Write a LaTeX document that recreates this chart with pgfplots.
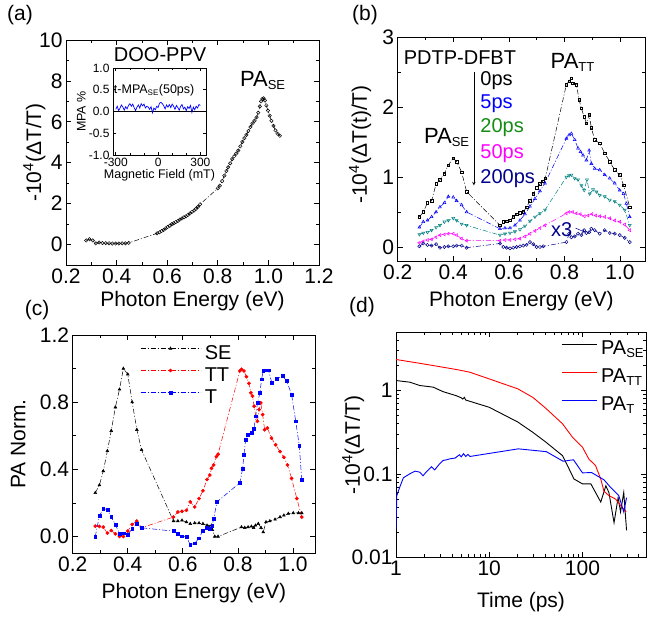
\documentclass[border=0pt]{standalone}
\usepackage{fontspec}
\setmainfont{Liberation Sans}
\usepackage{pgfplots}
\pgfplotsset{compat=1.18}
\definecolor{mteal}{RGB}{0,128,128}
\definecolor{mnavy}{RGB}{0,0,139}
\definecolor{mgreen}{RGB}{20,140,20}
\definecolor{mmag}{RGB}{255,0,255}
\definecolor{mblue}{RGB}{0,0,255}
\definecolor{mred}{RGB}{255,0,0}
\newcommand{\fs}{\fontsize{21}{24}\selectfont}
\newcommand{\fa}{\fontsize{20}{23}\selectfont}
\newcommand{\fp}{\fontsize{22}{25}\selectfont}
\newcommand{\sub}[1]{\textsubscript{\fontsize{13}{13}\selectfont #1}}
\pgfplotsset{
 panel/.style={scale only axis, anchor=south west, tick align=inside,
   /pgf/number format/assume math mode=true,
   tick label style={font=\fs},
   label style={font=\fs},
   axis line style={line width=0.8pt},
   major tick length=5pt, minor tick length=3pt,
   every tick/.style={line width=0.7pt, black},
 },
 dd/.style={dash pattern=on 5pt off 2pt on 1pt off 2pt, line width=0.5pt},
}
\begin{document}
\begin{tikzpicture}[font=\fs]
\useasboundingbox (0,0) rectangle (647pt,618pt);
% ---------------- (a)
\begin{axis}[panel, at={(66pt,353pt)}, width=253pt, height=225pt,
 xmin=0.2,xmax=1.2,ymin=-1,ymax=10,
 xtick={0.2,0.4,0.6,0.8,1.0,1.2}, xticklabels={0.2,0.4,0.6,0.8,1.0,1.2},
 ytick={0,2,4,6,8,10}, yticklabels={0,2,4,6,8,10},
 minor x tick num=1, minor y tick num=1,
 xlabel={Photon Energy (eV)}, ylabel={-10\textsuperscript{4}(ΔT/T)},
 xlabel style={at={(axis description cs:0.5,-0.16)}, anchor=center},
 ylabel style={at={(axis description cs:-0.125,0.5)}, anchor=center},
]
\addplot[black, dd, mark=o, mark size=1.7pt, mark options={solid, line width=0.5pt}] table {
0.280 0.20
0.293 0.26
0.306 0.20
0.318 0.06
0.331 0.10
0.344 0.07
0.357 0.07
0.370 0.06
0.383 0.05
0.396 0.05
0.409 0.05
0.422 0.06
0.435 0.06
0.448 0.08
0.560 0.55
0.570 0.60
0.578 0.66
0.586 0.71
0.594 0.79
0.602 0.86
0.610 0.92
0.618 0.99
0.626 1.04
0.634 1.10
0.642 1.15
0.650 1.22
0.658 1.27
0.666 1.33
0.674 1.38
0.682 1.45
0.690 1.52
0.698 1.60
0.706 1.66
0.714 1.75
0.722 1.85
0.730 1.97
0.800 2.75
0.808 2.88
0.817 3.10
0.826 3.37
0.834 3.60
0.841 3.78
0.849 3.97
0.857 4.18
0.865 4.32
0.873 4.45
0.881 4.60
0.889 4.80
0.897 5.02
0.905 5.20
0.913 5.36
0.921 5.55
0.929 5.75
0.937 5.92
0.945 6.05
0.953 6.22
0.960 6.45
0.966 6.75
0.971 7.00
0.976 7.12
0.981 7.15
0.986 7.05
0.992 6.80
0.998 6.55
1.005 6.30
1.012 6.05
1.020 5.80
1.028 5.58
1.036 5.42
1.045 5.32
};
\node[font=\fa] at (axis cs:0.572,9.27) {DOO-PPV};
\node[font=\fp] at (axis cs:0.978,8.04) {PA\sub{SE}};
\end{axis}
% ---------------- inset
\begin{axis}[panel, at={(113pt,463pt)}, width=93pt, height=87pt,
 xmin=-320, xmax=340, ymin=-1, ymax=1,
 xtick={-300,0,300}, xticklabels={-300,0,300}, minor xtick={-200,-100,100,200},
 ytick={-1,-0.5,0,0.5,1}, yticklabels={-1.0,-0.5,0.0,0.5,1.0},
 tick label style={font=\fontsize{12}{14}\selectfont},
 label style={font=\fontsize{12.5}{14}\selectfont},
 major tick length=3pt, minor tick length=2pt,
 xlabel={Magnetic Field (mT)}, ylabel={MPA \%},
 xlabel style={at={(axis description cs:0.5,-0.23)}, anchor=center},
 ylabel style={at={(axis description cs:-0.34,0.5)}, anchor=center},
 axis line style={line width=0.7pt},
]
\addplot[black, line width=0.7pt] coordinates {(-320,0) (340,0)};
\addplot[mblue, line width=0.7pt] table {
-300 0.05
-290 0.12
-280 0.02
-270 0.08
-260 0.15
-250 0.10
-240 0.03
-230 0.11
-220 0.06
-210 0.14
-200 0.18
-190 0.12
-180 0.17
-170 0.09
-160 0.02
-150 0.10
-140 0.15
-130 0.08
-120 0.18
-110 0.13
-100 0.17
-90 0.08
-80 0.12
-70 0.10
-60 0.05
-50 0.11
-40 -0.03
-30 0.08
-20 0.04
-10 0.12
0 0.09
10 0.19
20 0.21
30 0.18
40 0.13
50 0.06
60 0.15
70 0.10
80 0.16
90 0.09
100 0.17
110 0.12
120 0.05
130 0.14
140 0.09
150 0.03
160 0.12
170 0.16
180 0.06
190 0.10
200 0.02
210 0.11
220 0.07
230 0.14
240 -0.02
250 0.10
260 0.04
270 0.12
280 0.08
290 0.16
300 0.14
};
\node[font=\fontsize{12.5}{14}\selectfont] at (axis cs:-28,0.49) {t-MPA\textsubscript{\fontsize{8}{8}\selectfont SE}(50ps)};
\end{axis}
% ---------------- (b)
\begin{axis}[panel, at={(397.7pt,357pt)}, width=247.3pt, height=224pt,
 xmin=0.2,xmax=1.09,ymin=-0.2,ymax=3,
 xtick={0.2,0.4,0.6,0.8,1.0}, xticklabels={0.2,0.4,0.6,0.8,1.0},
 ytick={0,1,2,3}, yticklabels={0,1,2,3},
 minor x tick num=1, minor y tick num=1,
 xlabel={Photon Energy (eV)}, ylabel={-10\textsuperscript{4}(ΔT(t)/T)},
 xlabel style={at={(axis description cs:0.5,-0.178)}, anchor=center},
 ylabel style={at={(axis description cs:-0.152,0.52)}, anchor=center},
]
\addplot[black, dd, mark=square, mark size=1.3pt, mark options={solid, line width=0.5pt}] table {
0.278 0.43
0.292 0.50
0.307 0.63
0.322 0.66
0.338 0.90
0.352 0.96
0.368 1.05
0.382 1.17
0.400 1.27
0.412 1.22
0.430 1.07
0.448 0.79
0.568 0.31
0.580 0.36
0.592 0.37
0.604 0.38
0.616 0.43
0.628 0.47
0.640 0.49
0.652 0.50
0.664 0.57
0.676 0.66
0.688 0.76
0.700 0.85
0.712 0.90
0.722 0.94
0.731 0.98
0.807 2.32
0.817 2.37
0.825 2.41
0.831 2.34
0.843 2.32
0.853 2.10
0.861 1.98
0.871 1.86
0.879 1.77
0.889 1.89
0.897 1.70
0.909 1.53
0.927 1.48
0.945 1.34
0.963 1.22
0.981 1.10
0.999 1.03
1.013 0.88
1.035 0.57
};
\addplot[mblue, dd, mark=triangle, mark size=1.7pt, mark options={solid, line width=0.5pt}] table {
0.278 0.28
0.292 0.36
0.307 0.38
0.322 0.43
0.338 0.50
0.352 0.57
0.368 0.63
0.382 0.72
0.400 0.71
0.412 0.66
0.430 0.60
0.448 0.50
0.568 0.26
0.586 0.27
0.604 0.27
0.622 0.31
0.640 0.38
0.658 0.47
0.676 0.58
0.694 0.69
0.712 0.80
0.730 0.91
0.807 1.55
0.817 1.60
0.825 1.62
0.837 1.53
0.849 1.41
0.858 1.36
0.867 1.31
0.879 1.24
0.889 1.38
0.897 1.19
0.909 1.12
0.927 1.10
0.945 1.03
0.963 0.98
0.981 0.91
0.999 0.81
1.013 0.76
1.023 0.62
1.035 0.43
};
\addplot[mteal, dd, mark=triangle, mark size=1.7pt, mark options={solid, line width=0.5pt, rotate=180}] table {
0.278 0.18
0.292 0.20
0.307 0.21
0.322 0.24
0.338 0.28
0.352 0.31
0.368 0.36
0.382 0.38
0.400 0.41
0.412 0.38
0.430 0.33
0.448 0.31
0.568 0.17
0.586 0.19
0.604 0.20
0.622 0.22
0.640 0.25
0.658 0.30
0.676 0.37
0.694 0.43
0.712 0.48
0.730 0.53
0.807 1.00
0.817 1.02
0.825 1.03
0.837 0.98
0.849 0.96
0.861 0.88
0.871 0.81
0.881 0.96
0.891 0.76
0.903 0.82
0.915 0.79
0.927 0.74
0.945 0.72
0.963 0.67
0.981 0.65
0.999 0.60
1.017 0.53
1.035 0.31
};
\addplot[mmag, dd, mark=triangle, mark size=1.7pt, mark options={solid, line width=0.5pt, rotate=90}] table {
0.278 0.06
0.292 0.08
0.307 0.10
0.322 0.11
0.338 0.14
0.352 0.17
0.368 0.18
0.382 0.19
0.400 0.19
0.412 0.17
0.430 0.12
0.448 0.09
0.568 0.09
0.586 0.10
0.604 0.10
0.622 0.11
0.640 0.12
0.658 0.15
0.676 0.19
0.694 0.23
0.712 0.27
0.730 0.31
0.807 0.48
0.817 0.50
0.829 0.50
0.843 0.48
0.857 0.47
0.871 0.44
0.885 0.45
0.899 0.47
0.913 0.45
0.927 0.44
0.945 0.43
0.963 0.41
0.981 0.38
0.999 0.36
1.017 0.32
1.035 0.24
};
\addplot[mnavy, dd, mark=o, mark size=1.6pt, mark options={solid, line width=0.5pt}] table {
0.278 0.01
0.292 0.05
0.307 0.03
0.322 0.02
0.338 0.04
0.352 -0.01
0.368 0.00
0.382 0.01
0.400 0.01
0.412 0.02
0.430 0.02
0.448 -0.01
0.568 0.05
0.580 0.00
0.592 -0.01
0.604 -0.02
0.616 -0.01
0.628 0.00
0.640 0.01
0.652 0.02
0.664 0.03
0.676 0.07
0.688 0.04
0.700 0.00
0.712 0.00
0.724 0.01
0.807 0.07
0.817 0.19
0.825 0.14
0.837 0.15
0.849 0.19
0.861 0.17
0.871 0.24
0.879 0.20
0.889 0.21
0.897 0.26
0.909 0.24
0.927 0.19
0.945 0.24
0.963 0.20
0.981 0.19
0.999 0.17
1.017 0.13
1.035 0.07
};
\node[font=\fa] at (axis cs:0.424,2.71) {PDTP-DFBT};
\node[font=\fp] at (axis cs:0.83,2.64) {PA\sub{TT}};
\node[font=\fp] at (axis cs:0.377,1.57) {PA\sub{SE}};
\draw[-stealth, line width=0.6pt] (axis cs:0.474,2.5) -- (axis cs:0.474,0.88);
\node[font=\fa, anchor=west, black] at (axis cs:0.485,2.38) {0ps};
\node[font=\fa, anchor=west, mblue] at (axis cs:0.485,2.05) {5ps};
\node[font=\fa, anchor=west, mgreen] at (axis cs:0.485,1.70) {20ps};
\node[font=\fa, anchor=west, mmag] at (axis cs:0.485,1.34) {50ps};
\node[font=\fa, anchor=west, mnavy] at (axis cs:0.485,0.98) {200ps};
\node[font=\fa, mnavy] at (axis cs:0.79,0.25) {x3};
\draw[-stealth, mnavy, line width=0.5pt] (axis cs:0.84,0.27) -- (axis cs:0.875,0.21);
\end{axis}
% ---------------- (c)
\begin{axis}[panel, at={(72.7pt,64.7pt)}, width=242.3pt, height=218.3pt,
 xmin=0.2,xmax=1.08,ymin=-0.1,ymax=1.2,
 xtick={0.2,0.4,0.6,0.8,1.0}, xticklabels={0.2,0.4,0.6,0.8,1.0},
 ytick={0,0.4,0.8,1.2}, yticklabels={0.0,0.4,0.8,1.2},
 minor x tick num=1, minor y tick num=1,
 xlabel={Photon Energy (eV)}, ylabel={PA Norm.},
 xlabel style={at={(axis description cs:0.5,-0.183)}, anchor=center},
 ylabel style={at={(axis description cs:-0.225,0.5)}, anchor=center},
 legend style={draw=none, fill=none, at={(0.278,0.955)}, anchor=north west, font=\fa, row sep=5pt, inner sep=0pt,
   nodes={inner sep=0pt, text height=14pt, text depth=3pt},
   /tikz/every odd column/.append style={column sep=4pt}},
 legend cell align=left,
 legend image code/.code={\draw[mark repeat=2,mark phase=2,#1] plot coordinates {(0pt,5pt) (30pt,5pt) (60pt,5pt)};},
]
\addplot[black, dd, mark=triangle*, mark size=1.6pt, mark options={solid}] table {
0.282 0.26
0.297 0.306
0.311 0.39
0.326 0.51
0.340 0.63
0.355 0.77
0.370 0.876
0.384 1.0
0.400 0.966
0.416 0.80
0.433 0.636
0.450 0.516
0.566 0.092
0.582 0.092
0.597 0.096
0.613 0.086
0.627 0.076
0.643 0.08
0.659 0.08
0.673 0.076
0.688 0.066
0.695 0.06
0.704 0.066
0.707 0.04
0.716 0.0
0.728 0.0
0.813 0.056
0.825 0.052
0.837 0.056
0.849 0.06
0.857 0.052
0.864 0.066
0.874 0.076
0.884 0.052
0.892 0.026
0.902 0.086
0.916 0.092
0.935 0.102
0.953 0.116
0.967 0.126
0.983 0.136
1.001 0.14
1.020 0.14
1.032 0.14
};
\addlegendentry{SE}
\addplot[mred, dd, mark=*, mark size=1.6pt, mark options={solid}] table {
0.282 0.062
0.297 0.06
0.311 0.056
0.326 0.02
0.340 0.036
0.355 0.016
0.370 0.0
0.384 0.0
0.400 0.032
0.416 0.072
0.433 0.092
0.450 0.052
0.566 0.116
0.582 0.146
0.597 0.15
0.613 0.156
0.627 0.206
0.643 0.176
0.659 0.226
0.673 0.272
0.688 0.34
0.698 0.366
0.704 0.406
0.712 0.426
0.722 0.476
0.728 0.49
0.807 0.986
0.813 0.996
0.822 0.986
0.831 0.952
0.840 0.912
0.847 0.856
0.853 0.836
0.859 0.776
0.865 0.716
0.871 0.686
0.877 0.756
0.883 0.796
0.890 0.726
0.897 0.636
0.907 0.646
0.922 0.586
0.937 0.546
0.953 0.506
0.967 0.472
0.980 0.426
0.995 0.346
1.014 0.226
1.032 0.116
};
\addlegendentry{TT}
\addplot[mblue, dd, mark=square*, mark size=1.4pt, mark options={solid}] table {
0.282 0.0
0.297 0.122
0.311 0.166
0.326 0.16
0.340 0.116
0.355 0.072
0.370 0.016
0.384 0.02
0.400 0.012
0.416 0.046
0.433 0.076
0.450 0.052
0.566 0.032
0.582 0.016
0.597 0.002
0.613 0.0
0.627 -0.05
0.643 -0.04
0.659 -0.01
0.673 0.036
0.688 0.052
0.698 0.046
0.707 0.066
0.712 0.106
0.724 0.206
0.807 0.32
0.817 0.402
0.822 0.486
0.828 0.576
0.837 0.606
0.850 0.62
0.858 0.64
0.865 0.716
0.871 0.796
0.880 0.856
0.886 0.936
0.892 0.986
0.902 0.99
0.911 0.99
0.923 0.916
0.941 0.94
0.963 0.956
0.977 0.926
0.995 0.846
1.010 0.686
1.023 0.54
1.032 0.336
};
\addlegendentry{T}
\end{axis}
% ---------------- (d)
\begin{axis}[panel, at={(396pt,60.7pt)}, width=250pt, height=225pt,
 xmode=log, ymode=log, xmin=1, xmax=480, ymin=0.01, ymax=5,
 xtick={1,10,100}, xticklabels={1,10,100},
 ytick={0.01,0.1,1}, yticklabels={0.01,0.1,1},
 minor xtick={2,3,4,5,6,7,8,9,20,30,40,50,60,70,80,90,200,300,400},
 minor ytick={0.02,0.03,0.04,0.05,0.06,0.07,0.08,0.09,0.2,0.3,0.4,0.5,0.6,0.7,0.8,0.9,2,3,4,5},
 xlabel={Time (ps)}, ylabel={-10\textsuperscript{4}(ΔT/T)},
 xlabel style={at={(axis description cs:0.5,-0.197)}, anchor=center},
 ylabel style={at={(axis description cs:-0.171,0.5)}, anchor=center},
 legend style={draw=none, fill=none, at={(0.66,0.97)}, anchor=north west, font=\fa, row sep=7pt, inner sep=0pt,
   nodes={inner sep=0pt, text height=15pt, text depth=6pt},
   /tikz/every odd column/.append style={column sep=4pt}},
 legend cell align=left,
 legend image code/.code={\draw[#1] (0pt,5pt) -- (35pt,5pt);},
]
\addplot[black, line width=0.9pt] table {
1 1.32
1.41 1.26
1.8 1.15
2.5 1.10
3.2 0.97
4.4 0.87
5.0 0.82
5.2 0.79
5.4 0.83
5.6 0.77
10 0.63
20.2 0.42
29.3 0.316
40.6 0.24
61 0.166
69 0.126
81 0.087
100 0.076
123 0.076
157 0.046
178 0.072
192 0.06
218 0.026
241 0.052
256 0.035
277 0.06
297 0.021
};
\addlegendentry{PA\sub{SE}}
\addplot[mred, line width=0.9pt] table {
1 2.36
1.96 2.09
4.44 1.79
6.2 1.66
10 1.38
20.2 1.05
29.3 0.83
40.6 0.61
61 0.40
78 0.276
100 0.209
117 0.151
138 0.126
157 0.087
170 0.062
192 0.055
226 0.05
256 0.042
294 0.035
};
\addlegendentry{PA\sub{TT}}
\addplot[mblue, line width=0.9pt] table {
1 0.022
1.02 0.055
1.1 0.07
1.2 0.09
1.4 0.10
1.6 0.108
1.8 0.105
1.95 0.095
2.1 0.105
2.4 0.122
2.6 0.112
2.9 0.13
3.2 0.145
3.5 0.148
3.8 0.152
4.3 0.155
4.8 0.17
5.0 0.16
5.3 0.175
5.6 0.162
5.9 0.172
6.2 0.162
20.5 0.20
41 0.185
62 0.142
80 0.148
100 0.103
125 0.104
170 0.085
200 0.069
245 0.055
277 0.035
297 0.052
};
\addlegendentry{PA\sub{T}}
\end{axis}
\node[font=\fs] at (20pt,603pt) {(a)};
\node[font=\fs] at (365pt,603pt) {(b)};
\node[font=\fs] at (37pt,308pt) {(c)};
\node[font=\fs] at (362pt,311pt) {(d)};
\end{tikzpicture}
\end{document}
